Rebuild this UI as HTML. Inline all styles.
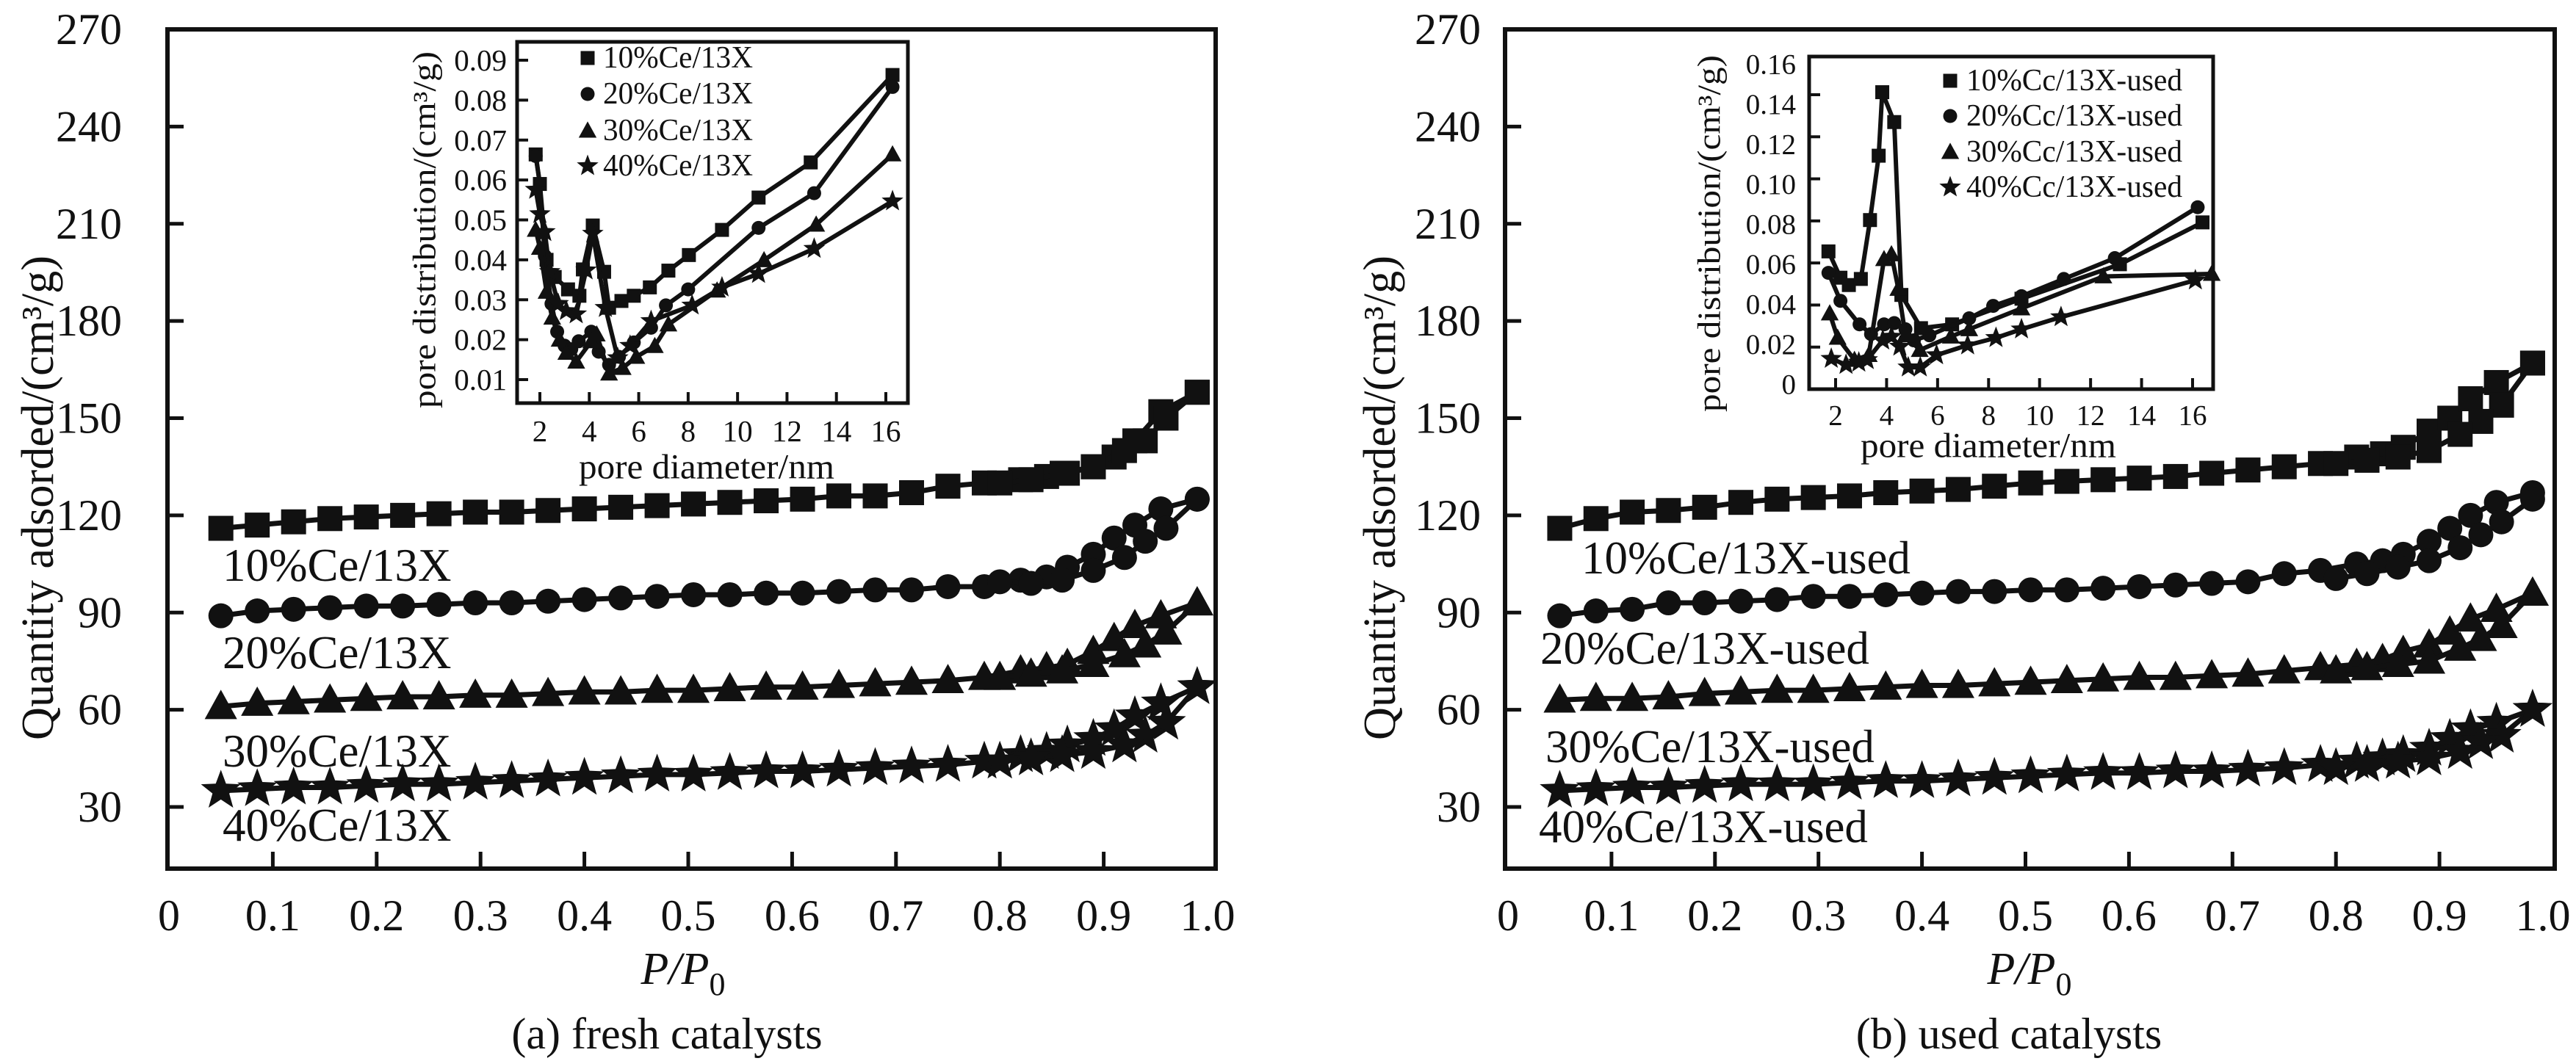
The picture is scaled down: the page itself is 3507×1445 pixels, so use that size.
<!DOCTYPE html>
<html><head><meta charset="utf-8">
<style>
html,body{margin:0;padding:0;background:#fff;}
svg{display:block;}
svg text{font-family:"Liberation Serif","Times New Roman",serif;fill:#111;}
</style></head>
<body>
<svg id="fig" xmlns="http://www.w3.org/2000/svg" width="3507" height="1445" viewBox="0 0 3507 1445" font-family="Liberation Serif, serif"></svg>
<script>
// ---------- data ----------
const pAds = [0.05,0.085,0.12,0.155,0.19,0.225,0.26,0.295,0.33,0.365,0.40,0.435,0.47,0.505,0.54,0.575,0.61,0.645,0.68,0.715,0.75,0.785,0.82,0.845,0.865,0.89,0.91,0.93,0.955,0.99];
const pDes = [0.99,0.96,0.94,0.92,0.89,0.86,0.83,0.80];
const mainYTicks = [30,60,90,120,150,180,210,240,270];
const mainXTicks = [0,0.1,0.2,0.3,0.4,0.5,0.6,0.7,0.8,0.9,1.0];
const mainXTickLabels = ["0","0.1","0.2","0.3","0.4","0.5","0.6","0.7","0.8","0.9","1.0"];

const a10Ads = [116,117,118,119,119.5,120,120.5,121,121,121.5,122,122.5,123,123.5,124,124.5,125,126,126,127,129,130,131,132,133,135,138,143,152,158];
const a10Des = [158,150,143,140,135,133,131,130];
const a20Ads = [89,90.5,91,91.5,92,92,92.5,93,93,93.5,94,94.5,95,95.5,95.5,96,96,96.5,97,97,98,98,100,101,104,108,113,117,122,125];
const a20Des = [125,116,112,107,103,100,99,99.5];
const a30Ads = [61,62,62.5,63,63.5,64,64,64.5,64.5,65,65.5,65.5,66,66,66.5,67,67,67.5,68,68.5,69,70,72,73,74,78,82,86,89,93];
const a30Des = [93,84,80,77,74,72,71,70];
const a40Ads = [35,35.5,36,36,36.5,37,37,37.5,38,38.5,39,39.5,40,40,40.5,41,41,41.5,42,42.5,43,44,46,47,49,51,54,58,62,67];
const a40Des = [67,56,52,49,47,46,45,44];

const b10Ads = [116,119,121,121.5,122.5,124,125,125.5,126,127,127.5,128,129,130,130.5,131,131.5,132,133,134,135,136,138,139,141,146,150,156,161,167];
const b10Des = [167,154,149,145,140,138,137,136];
const b20Ads = [89,90.5,91,93,93,93.5,94,95,95,95.5,96,96.5,96.5,97,97,97.5,98,98.5,99,99.5,102,103,105,106,108,112,116,120,124,127];
const b20Des = [125,118,114,110,106,104,102,100.5];
const b30Ads = [63,63.5,63.5,64,65,65.5,66,66,66.5,67,67.5,67.5,68,68.5,69,69.5,70,70,70.5,71,72,73,74,75.5,78,80,84,88,91,96];
const b30Des = [96,86,82,79,75,74,73,72];
const b40Ads = [35,35.5,36,36,36.5,37,37,37,37.5,38,38,38.5,39,39.5,40,40.5,40.5,41,41,41.5,42,43,44,45,46,48,51,54,56,60];
const b40Des = [60,52,50,47,45,44,43,42];

// inset a (pore diameter nm, distribution)
const ia10X = [1.83,2.0,2.27,2.6,3.14,3.6,3.74,4.14,4.6,4.8,5.3,5.8,6.45,7.2,8.03,9.37,10.85,12.96,16.27];
const ia10Y = [0.0664,0.059,0.040,0.0357,0.0326,0.031,0.0376,0.0486,0.037,0.028,0.0297,0.031,0.0331,0.0373,0.0412,0.0475,0.0556,0.0644,0.0863];
const ia20X = [1.83,2.0,2.2,2.47,2.7,3.0,3.27,3.57,4.08,4.38,4.8,5.2,5.8,6.5,7.1,8.0,10.85,13.1,16.27];
const ia20Y = [0.066,0.059,0.041,0.029,0.022,0.0185,0.0176,0.0196,0.022,0.017,0.0137,0.0157,0.0193,0.023,0.0286,0.0326,0.048,0.0567,0.0833];
const ia30X = [1.83,2.0,2.27,2.5,2.8,3.07,3.47,4.08,4.3,4.8,5.35,5.9,6.65,7.2,9.17,11.07,13.18,16.27];
const ia30Y = [0.0475,0.043,0.032,0.0255,0.020,0.0167,0.0145,0.0196,0.0213,0.0115,0.0129,0.0157,0.0184,0.0238,0.0323,0.0399,0.0488,0.0664];
const ia40X = [1.83,2.0,2.2,2.4,2.74,3.07,3.47,3.87,4.14,4.65,5.15,5.65,6.5,8.16,9.37,10.85,13.1,16.27];
const ia40Y = [0.0576,0.0515,0.047,0.037,0.029,0.0272,0.0264,0.0374,0.0466,0.028,0.0154,0.0185,0.0247,0.0286,0.0331,0.0365,0.0428,0.0547];
const iaXTicks = [2,4,6,8,10,12,14,16];
const iaYTicks = [0.01,0.02,0.03,0.04,0.05,0.06,0.07,0.08,0.09];
const iaYTickLabels = ["0.01","0.02","0.03","0.04","0.05","0.06","0.07","0.08","0.09"];

// inset b
const ib10X = [1.72,2.19,2.52,2.99,3.35,3.69,3.83,4.3,4.58,5.35,6.57,9.29,13.15,16.39];
const ib10Y = [0.0655,0.053,0.0495,0.0524,0.0804,0.111,0.1412,0.127,0.0448,0.029,0.0308,0.043,0.0594,0.0793];
const ib20X = [1.72,2.19,2.94,3.39,3.9,4.3,4.74,5.07,5.68,7.24,8.18,9.29,10.95,12.95,16.2];
const ib20Y = [0.0553,0.042,0.0308,0.0262,0.0308,0.0314,0.0285,0.0232,0.0256,0.0337,0.0396,0.0442,0.0524,0.0623,0.0865];
const ib30X = [1.77,2.08,2.74,3.3,3.9,4.19,4.46,4.74,5.3,6.52,7.24,9.29,12.5,16.75];
const ib30Y = [0.036,0.0244,0.0139,0.0162,0.0618,0.0641,0.0477,0.0256,0.0186,0.025,0.0285,0.0384,0.0536,0.0548];
const ib40X = [1.83,2.41,2.91,3.24,3.85,4.19,4.52,4.85,5.32,5.96,7.18,8.29,9.29,10.84,16.11];
const ib40Y = [0.0145,0.0116,0.0127,0.0139,0.0232,0.025,0.0203,0.0104,0.0104,0.0162,0.0209,0.0244,0.0285,0.0343,0.0518];
const ibXTicks = [2,4,6,8,10,12,14,16];
const ibYTicks = [0.02,0.04,0.06,0.08,0.10,0.12,0.14];
const ibYTickLabels = ["0.16","0.14","0.12","0.10","0.08","0.06","0.04","0.02","0"];

// ---------- helpers ----------
const NS = "http://www.w3.org/2000/svg";
const svg = document.getElementById('fig');
function el(tag, attrs, parent){
  const e = document.createElementNS(NS, tag);
  for (const k in attrs) e.setAttribute(k, attrs[k]);
  (parent||svg).appendChild(e);
  return e;
}
function txt(parent, x, y, s, size, anchor, extra){
  const t = el('text', Object.assign({x:x, y:y, 'font-size':size, 'text-anchor':anchor||'start', 'dominant-baseline':'central', 'font-family':'Liberation Serif, serif'}, extra||{}), parent);
  t.textContent = s;
  return t;
}
function lin(d0,d1,p0,p1){ return v => p0 + (v-d0)*(p1-p0)/(d1-d0); }
function marker(parent, type, cx, cy, s){
  let m;
  if (type==='square') m = el('rect',{x:cx-s/2,y:cy-s/2,width:s,height:s,fill:'#111'},parent);
  else if (type==='circle') m = el('circle',{cx:cx,cy:cy,r:s/2,fill:'#111'},parent);
  else if (type==='triangle') m = el('polygon',{points:`${cx},${cy-s*0.6} ${cx-s*0.58},${cy+s*0.45} ${cx+s*0.58},${cy+s*0.45}`,fill:'#111'},parent);
  else {
    let pts=[]; const R=s*0.62, r=R*0.42;
    for(let i=0;i<10;i++){const a=-Math.PI/2+i*Math.PI/5; const rr=i%2?r:R; pts.push((cx+rr*Math.cos(a)).toFixed(1)+','+(cy+rr*Math.sin(a)).toFixed(1));}
    m = el('polygon',{points:pts.join(' '),fill:'#111'},parent);
  }
  return m;
}
function series(parent, name, type, xs, ys, X, Y, size, lw){
  const g = el('g',{},parent);
  
  
  const pts = xs.map((v,i)=>X(v).toFixed(1)+','+Y(ys[i]).toFixed(1)).join(' ');
  const pl = el('polyline',{points:pts,fill:'none',stroke:'#111','stroke-width':lw,'stroke-linejoin':'round'},g);
  
  
  xs.forEach((v,i)=>{
    const m = marker(g, type, X(v), Y(ys[i]), size);
    
    
  });
}

// ---------- main panel ----------
function mainPanel(cfg){
  const g = el('g',{});
  
  
  const X = lin(0,1,cfg.x0,cfg.x1), Y = lin(30,270,1099,40);
  const fr = el('rect',{x:cfg.fl,y:40,width:cfg.fr-cfg.fl,height:1183-40,fill:'none',stroke:'#111','stroke-width':6},g);
   
  const yax = el('g',{},g);
   
  mainYTicks.forEach(v=>{
    if (v<270) el('line',{x1:cfg.fl,y1:Y(v),x2:cfg.fl+22,y2:Y(v),stroke:'#111','stroke-width':5},yax);
    const t = txt(yax, cfg.ylab, Y(v), String(v), 60, 'end');
     
  });
  const xax = el('g',{},g);
   
  mainXTicks.forEach((v,i)=>{
    if (v>0 && v<1) el('line',{x1:X(v),y1:1183,x2:X(v),y2:1160,stroke:'#111','stroke-width':5},xax);
    const t = txt(xax, X(v), 1247, mainXTickLabels[i], 60, 'middle');
     
  });
  const yt = el('text',{x:0,y:0,'font-size':62,'font-family':'Liberation Serif, serif','text-anchor':'middle','dominant-baseline':'central',transform:`translate(${cfg.ytx},678) rotate(-90)`,textLength:660,lengthAdjust:'spacingAndGlyphs'},g);
  yt.textContent = 'Quantity adsorded/(cm³/g)';
   
  const xt = el('text',{x:cfg.xtx,y:1320,'font-size':62,'font-family':'Liberation Serif, serif','text-anchor':'middle','dominant-baseline':'central','font-style':'italic'},g);
  xt.innerHTML = 'P/P<tspan font-style="normal" font-size="44" dy="20">0</tspan>';
   
  const cap = txt(g, cfg.capx, 1408, cfg.caption, 60, 'middle');
   
  const types = ['square','circle','triangle','star'];
  const sz = [34,34,38,46];
  cfg.data.forEach((d,k)=>{
    series(g, cfg.id+'-'+d.n+'-adsorption', types[k], pAds, d.a, X, Y, sz[k], 7);
    series(g, cfg.id+'-'+d.n+'-desorption', types[k], pDes, d.d, X, Y, sz[k], 7);
  });
  cfg.labels.forEach(l=>{
    const t = txt(g, l[0], l[1], l[2], 63, 'start');
     
  });
  return g;
}
mainPanel({id:'panel-a', x0:230, x1:1644, fl:228, fr:1655, ylab:166, ytx:52, xtx:930, capx:908, caption:'(a) fresh catalysts',
  data:[{n:'10pct',a:a10Ads,d:a10Des},{n:'20pct',a:a20Ads,d:a20Des},{n:'30pct',a:a30Ads,d:a30Des},{n:'40pct',a:a40Ads,d:a40Des}],
  labels:[[303,770,'10%Ce/13X'],[303,889,'20%Ce/13X'],[303,1023,'30%Ce/13X'],[303,1124,'40%Ce/13X']]});
mainPanel({id:'panel-b', x0:2053, x1:3462, fl:2049, fr:3478, ylab:2016, ytx:1879, xtx:2763, capx:2735, caption:'(b) used catalysts',
  data:[{n:'10pct',a:b10Ads,d:b10Des},{n:'20pct',a:b20Ads,d:b20Des},{n:'30pct',a:b30Ads,d:b30Des},{n:'40pct',a:b40Ads,d:b40Des}],
  labels:[[2153,760,'10%Ce/13X-used'],[2097,883,'20%Ce/13X-used'],[2104,1017,'30%Ce/13X-used'],[2095,1126,'40%Ce/13X-used']]});

// ---------- insets ----------
function inset(cfg){
  const g = el('g',{});
  
  
  el('rect',{x:cfg.l,y:cfg.t,width:cfg.r-cfg.l,height:cfg.b-cfg.t,fill:'#fff',stroke:'#111','stroke-width':5},g);
  const X = cfg.X, Y = cfg.Y;
  cfg.xt.forEach(v=>{
    el('line',{x1:X(v),y1:cfg.b,x2:X(v),y2:cfg.b-15,stroke:'#111','stroke-width':4},g);
    const t = txt(g, X(v), cfg.xly, String(v), cfg.fs, 'middle');
     
  });
  cfg.yt.forEach(v=>{ el('line',{x1:cfg.l,y1:Y(v),x2:cfg.l+15,y2:Y(v),stroke:'#111','stroke-width':4},g); });
  cfg.ylabs.forEach((s,i)=>{
    const t = txt(g, cfg.ylx, cfg.ylpos(i), s, cfg.fs, 'end');
     
  });
  const yt = el('text',{x:0,y:0,'font-size':44,'font-family':'Liberation Serif, serif','text-anchor':'middle','dominant-baseline':'central',transform:`translate(${cfg.ytx},${cfg.yty}) rotate(-90)`,textLength:486,lengthAdjust:'spacingAndGlyphs'},g);
  yt.textContent = 'pore distribution/(cm³/g)';
   
  const xt = el('text',{x:cfg.xtx,y:cfg.xty,'font-size':48,'font-family':'Liberation Serif, serif','text-anchor':'middle','dominant-baseline':'central',textLength:348,lengthAdjust:'spacingAndGlyphs'},g);
  xt.textContent = 'pore diameter/nm';
   
  const types = ['square','circle','triangle','star'];
  const sz = [19,19,21,25];
  cfg.series.forEach((s,k)=>{ series(g, cfg.id+'-'+s.n, types[k], s.x, s.y, X, Y, sz[k], 6); });
  const lg = el('g',{},g);
   
  cfg.series.forEach((s,k)=>{
    marker(lg, types[k], cfg.lmx, cfg.lrows[k], sz[k]);
    const t = txt(lg, cfg.ltx, cfg.lrows[k], s.label, cfg.lfs, 'start', {textLength:cfg.ltl, lengthAdjust:'spacingAndGlyphs'});
     
  });
}
inset({id:'inset-a', l:704, r:1236, t:57, b:549,
  X: lin(2,16,735,1206), Y: lin(0.01,0.09,517,82),
  xt: iaXTicks, yt: iaYTicks, xly:587, fs:41,
  ylabs: iaYTickLabels, ylx:690, ylpos: i=>lin(0.01,0.09,517,82)(iaYTicks[i]),
  ytx:578, yty:313, xtx:962, xty:636,
  series:[{n:'10pct',x:ia10X,y:ia10Y,label:'10%Ce/13X'},{n:'20pct',x:ia20X,y:ia20Y,label:'20%Ce/13X'},{n:'30pct',x:ia30X,y:ia30Y,label:'30%Ce/13X'},{n:'40pct',x:ia40X,y:ia40Y,label:'40%Ce/13X'}],
  lmx:800, ltx:821, lrows:[79,128,178,226], lfs:42, ltl:204});
inset({id:'inset-b', l:2463, r:3013, t:77, b:530,
  X: lin(2,16,2499,2985), Y: lin(0,0.14,530,129),
  xt: ibXTicks, yt: ibYTicks, xly:566, fs:39,
  ylabs: ibYTickLabels, ylx:2445, ylpos: i=>88+i*54.5,
  ytx:2327, yty:318, xtx:2707, xty:607,
  series:[{n:'10pct',x:ib10X,y:ib10Y,label:'10%Cc/13X-used'},{n:'20pct',x:ib20X,y:ib20Y,label:'20%Cc/13X-used'},{n:'30pct',x:ib30X,y:ib30Y,label:'30%Cc/13X-used'},{n:'40pct',x:ib40X,y:ib40Y,label:'40%Cc/13X-used'}],
  lmx:2655, ltx:2677, lrows:[110,158,207,255], lfs:42, ltl:294});
</script>
</body></html>
